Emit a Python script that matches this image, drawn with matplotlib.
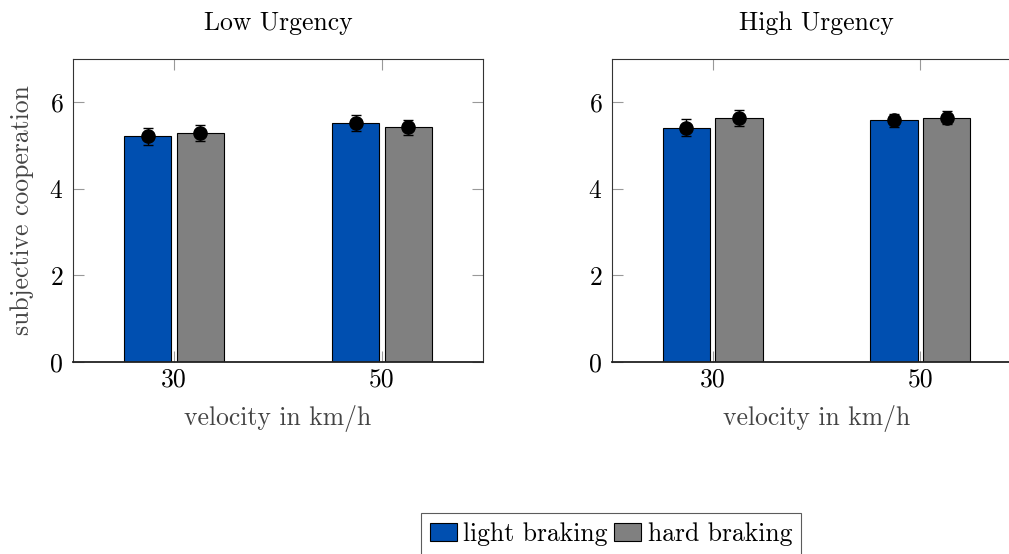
import matplotlib
matplotlib.use("Agg")
import matplotlib.pyplot as plt
from matplotlib.patches import Patch
import numpy as np

plt.rcParams['font.family'] = ['cmr10', 'DejaVu Serif']
plt.rcParams['axes.unicode_minus'] = False
plt.rcParams['axes.formatter.use_mathtext'] = True

# data
velocities = ['30', '50']
panels = ['Low Urgency', 'High Urgency']
light_mean = {'Low Urgency': [5.21, 5.52], 'High Urgency': [5.41, 5.58]}
light_err = {'Low Urgency': [0.19, 0.185], 'High Urgency': [0.20, 0.16]}
hard_mean = {'Low Urgency': [5.28, 5.42], 'High Urgency': [5.64, 5.64]}
hard_err = {'Low Urgency': [0.185, 0.18], 'High Urgency': [0.185, 0.15]}

blue = '#004fb0'
grey = '#808080'

W, H = 1009, 554
fig = plt.figure(figsize=(W / 100, H / 100), dpi=100)

# axes boxes in pixels (left, top, right, bottom)
boxes = [(73, 59, 483, 362), (612, 59, 1021, 362)]

x = np.arange(len(velocities))
bw = 0.228
off = 0.127
fs = 18.5

for name, (l, t, r, b) in zip(panels, boxes):
    ax = fig.add_axes([l / W, 1 - b / H, (r - l) / W, (b - t) / H])
    ax.bar(x - off, light_mean[name], bw, color=blue, edgecolor='black', linewidth=0.8, zorder=2)
    ax.bar(x + off, hard_mean[name], bw, color=grey, edgecolor='black', linewidth=0.8, zorder=2)
    ax.errorbar(x - off, light_mean[name], yerr=light_err[name], fmt='o', color='black',
                markersize=9.5, capsize=3.8, elinewidth=1, capthick=1, zorder=3)
    ax.errorbar(x + off, hard_mean[name], yerr=hard_err[name], fmt='o', color='black',
                markersize=9.5, capsize=3.8, elinewidth=1, capthick=1, zorder=3)
    ax.set_xlim(-0.486, 1.486)
    ax.set_ylim(0, 7)
    ax.set_xticks(x)
    ax.set_xticklabels(velocities)
    ax.set_yticks([0, 2, 4, 6])
    ax.tick_params(direction='in', length=8, width=0.8, color='#999999',
                   top=True, right=True, labelsize=fs, zorder=1)
    ax.tick_params(axis='x', pad=4)
    ax.tick_params(axis='y', pad=7)
    for s in ['left', 'top', 'right']:
        ax.spines[s].set_linewidth(0.8)
        ax.spines[s].set_color('#333333')
    ax.spines['bottom'].set_linewidth(1.3)
    ax.spines['bottom'].set_color('#222222')
    ax.set_title(name, fontsize=fs, pad=21)
    ax.set_xlabel('velocity in km/h', fontsize=fs, color='#444444', labelpad=10)
    if name == 'Low Urgency':
        ax.set_ylabel('subjective cooperation', fontsize=fs, color='#444444', labelpad=11)

handles = [Patch(facecolor=blue, edgecolor='black', linewidth=0.8, label='light braking'),
           Patch(facecolor=grey, edgecolor='black', linewidth=0.8, label='hard braking')]
leg = fig.legend(handles=handles, loc='center', bbox_to_anchor=(611 / W, 1 - 534 / H),
                 ncol=2, fontsize=fs, frameon=True, fancybox=False, handlelength=1.05,
                 handleheight=0.7, handletextpad=0.25, columnspacing=0.25, borderpad=0.35,
                 borderaxespad=0)
leg.get_frame().set_edgecolor('#333333')
leg.get_frame().set_linewidth(0.8)

fig.savefig('out.png', dpi=100)
